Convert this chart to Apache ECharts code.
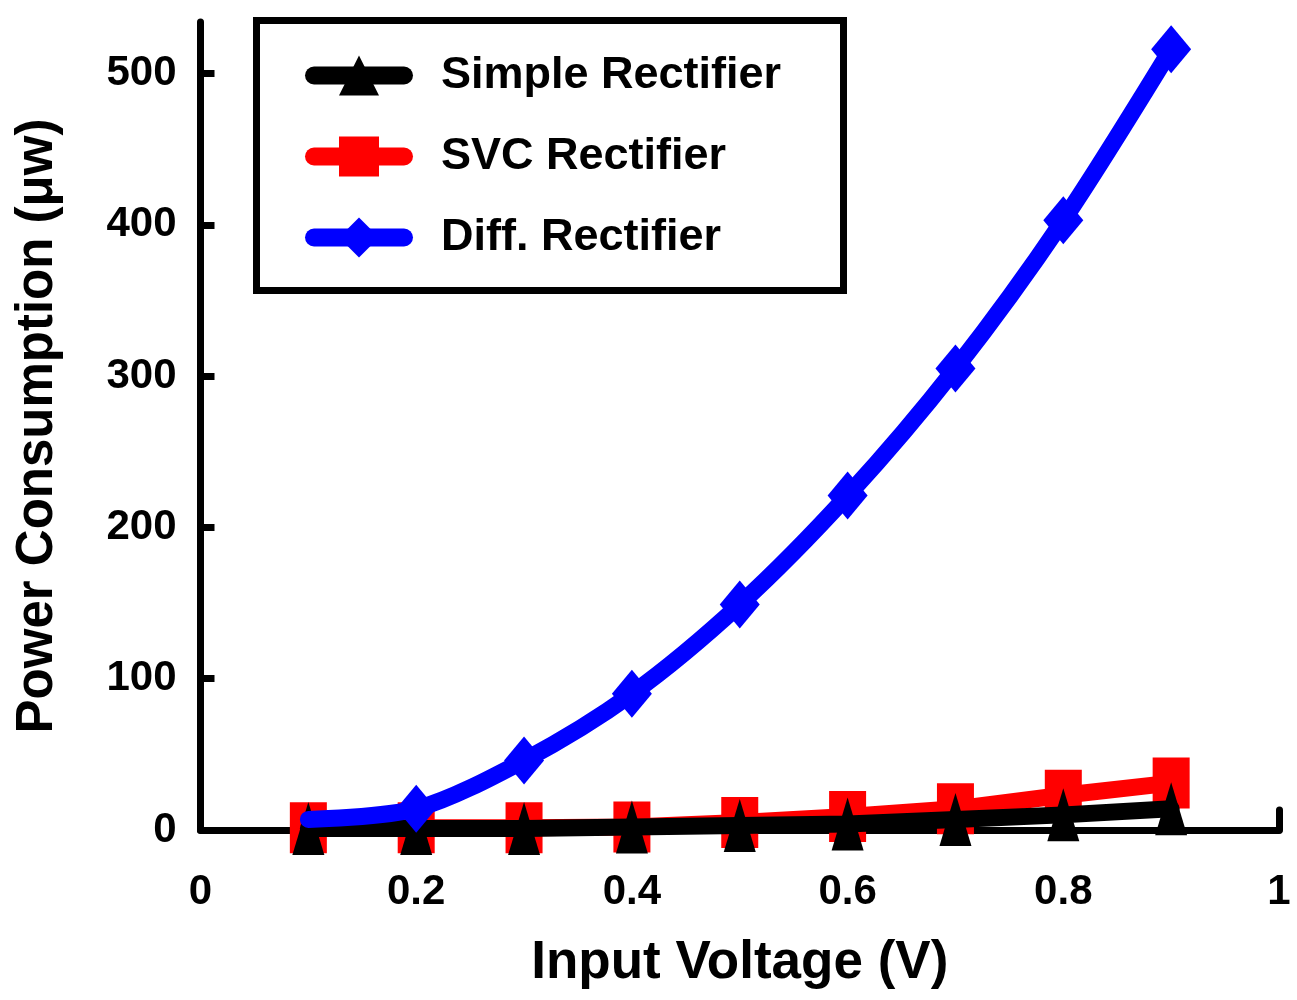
<!DOCTYPE html>
<html>
<head>
<meta charset="utf-8">
<script src="https://cdn.jsdelivr.net/npm/echarts@6/dist/echarts.min.js"></script>
<style>
html,body{margin:0;padding:0;background:#fff;}
#chart{width:1297px;height:1000px;}
</style>
</head>
<body>
<div id="chart"></div>
<script>
// Data
var voltages = [0.1, 0.2, 0.3, 0.4, 0.5, 0.6, 0.7, 0.8, 0.9];
var simpleRectifier = [1, 1, 1, 2, 3, 4, 7, 10, 14];
var svcRectifier = [1.5, 1.5, 1.5, 2, 5, 9, 14, 23, 31];
var diffRectifier = [7, 14, 46, 90, 149, 221, 305, 403, 516];
var yTickValues = [0, 100, 200, 300, 400, 500];
var seriesNames = ['Simple Rectifier', 'SVC Rectifier', 'Diff. Rectifier'];

function pairs(ys) { return voltages.map(function (x, i) { return [x, ys[i]]; }); }

var FONT = '"Liberation Sans", Arial, sans-serif';
var chart = echarts.init(document.getElementById('chart'), null, {renderer: 'canvas'});

var diffData = pairs(diffRectifier).map(function (p, i) {
  return i === 0 ? {value: p, symbol: 'none'} : p;
});

chart.setOption({
  animation: false,
  backgroundColor: '#ffffff',
  grid: {left: 200.5, right: 18, top: 22, bottom: 170, containLabel: false},
  xAxis: {
    type: 'value', min: 0, max: 1, interval: 0.2,
    name: 'Input Voltage (V)', nameLocation: 'middle', nameGap: 107,
    nameTextStyle: {fontFamily: FONT, fontWeight: 'bold', fontSize: 53, color: '#000'},
    axisLine: {show: true, lineStyle: {color: '#000', width: 7, cap: 'round'}},
    axisTick: {show: true, inside: true, length: 20, lineStyle: {color: '#000', width: 7, cap: 'round'}},
    axisLabel: {fontFamily: FONT, fontWeight: 'bold', fontSize: 42, color: '#000', margin: 41,
      formatter: function (v) { return String(+v.toFixed(1)); }},
    splitLine: {show: false}
  },
  yAxis: {
    type: 'value', min: 0, max: 534,
    name: 'Power Consumption (\u03bcw)', nameLocation: 'middle', nameGap: 137, nameRotate: 90,
    nameTextStyle: {fontFamily: FONT, fontWeight: 'bold', fontSize: 51, color: '#000'},
    axisLine: {show: true, lineStyle: {color: '#000', width: 7, cap: 'round'}},
    axisTick: {show: true, inside: true, length: 14, customValues: yTickValues, lineStyle: {color: '#000', width: 7}},
    axisLabel: {fontFamily: FONT, fontWeight: 'bold', fontSize: 42, color: '#000', margin: 24,
      customValues: yTickValues,
      formatter: function (v) { return (v % 100 === 0) ? String(v) : ''; }},
    splitLine: {show: false}
  },
  legend: {
    data: seriesNames,
    orient: 'vertical',
    left: 300, top: 48,
    itemWidth: 90, itemHeight: 50, itemGap: 36,
    lineStyle: {width: 18, cap: 'round'},
    textStyle: {fontFamily: FONT, fontWeight: 'bold', fontSize: 45, color: '#000', padding: [0, 0, 0, 32]},
    selectedMode: false
  },
  graphic: [{
    type: 'rect', left: 253, top: 17, z: 100,
    shape: {x: 0, y: 0, width: 587, height: 270},
    style: {fill: 'none', stroke: '#000', lineWidth: 7}
  }],
  series: [
    {
      name: 'Simple Rectifier', type: 'line', z: 3,
      data: pairs(simpleRectifier),
      symbol: 'triangle', symbolSize: [32, 53],
      lineStyle: {color: '#000', width: 17, cap: 'round', join: 'round'},
      itemStyle: {color: '#000'}
    },
    {
      name: 'SVC Rectifier', type: 'line', z: 2,
      data: pairs(svcRectifier),
      symbol: 'rect', symbolSize: [37, 51],
      lineStyle: {color: '#ff0000', width: 17, cap: 'round', join: 'round'},
      itemStyle: {color: '#ff0000'}
    },
    {
      name: 'Diff. Rectifier', type: 'line', z: 4, smooth: 0.3,
      data: diffData,
      symbol: 'diamond', symbolSize: [40, 48],
      lineStyle: {color: '#0000ff', width: 17, cap: 'round', join: 'round'},
      itemStyle: {color: '#0000ff'}
    }
  ]
});
</script>
</body>
</html>
